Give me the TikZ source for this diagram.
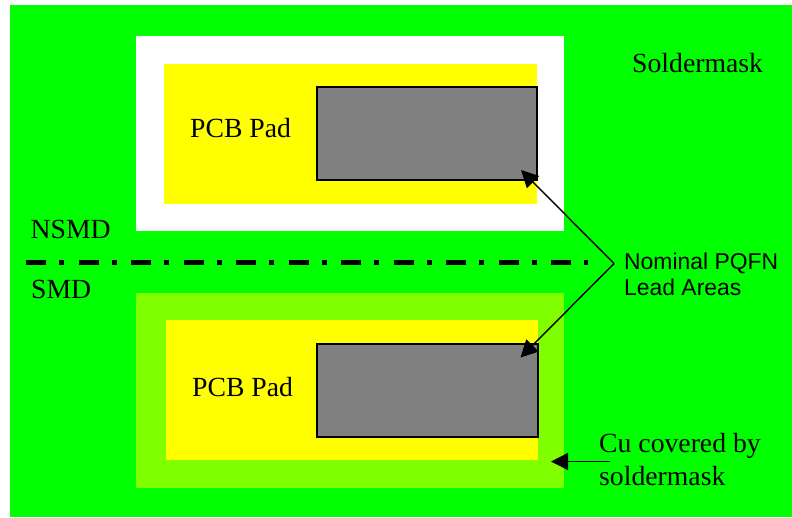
\documentclass[tikz,border=0pt]{standalone}
\usepackage{fontspec}
\setmainfont{Liberation Serif}
\newfontfamily\armfont{Liberation Sans}
\usetikzlibrary{arrows.meta}

\definecolor{maskgreen}{RGB}{0,255,0}
\definecolor{cugreen}{RGB}{128,255,0}
\definecolor{padyellow}{RGB}{255,255,0}
\definecolor{leadgray}{RGB}{128,128,128}

\tikzset{
  area/.style={inner sep=0pt, outer sep=0pt, anchor=north west},
  leadarea/.style={area, fill=leadgray, draw=black, line width=1.6pt},
  serif label/.style={inner sep=0pt, anchor=base west, font=\fontsize{27.7}{32}\selectfont},
  sans label/.style={inner sep=0pt, anchor=base west, font=\armfont\fontsize{22.9}{26}\selectfont},
  pointer/.style={-{Stealth[inset=0pt, length=17pt, width=17pt]}, line width=1.4pt},
}

\begin{document}
\begin{tikzpicture}[x=1pt, y=-1pt, >=Stealth]

  \useasboundingbox (0,0) rectangle (792,517);

  % Soldermask background
  \fill[maskgreen] (10,5) rectangle (792,517);

  % NSMD pad, opening in the mask
  \node[area, fill=white, minimum width=428pt, minimum height=195pt] (opening) at (136,36) {};
  \node[area, fill=padyellow, minimum width=373pt, minimum height=140pt] (padtop) at (164,64) {};
  \node[leadarea, minimum width=220pt, minimum height=93pt] (leadtop) at (317,87) {};
  \node[serif label] (padtoplabel) at (190,137) {PCB Pad};

  % SMD pad, copper under the mask
  \node[area, fill=cugreen, minimum width=428pt, minimum height=195pt] (copper) at (136,293) {};
  \node[area, fill=padyellow, minimum width=372pt, minimum height=140pt] (padbot) at (166,320) {};
  \node[leadarea, minimum width=221pt, minimum height=93pt] (leadbot) at (317,344) {};
  \node[serif label] (padbotlabel) at (192,396) {PCB Pad};

  % Dividing line
  \coordinate (divleft) at (26,262);
  \coordinate (divright) at (588,262);
  \draw[line width=5pt, dash pattern=on 20pt off 13pt on 5pt off 14.5pt] (divleft) -- (divright);

  % Labels
  \node[serif label] (mask) at (632,72) {Soldermask};
  \node[serif label] (nsmd) at (30.5,238) {NSMD};
  \node[serif label] (smd) at (31,298) {SMD};
  \node[sans label] (nominal) at (624,269) {Nominal PQFN};
  \node[sans label] (leadareas) at (624,295) {Lead Areas};
  \node[serif label] (cu) at (599,452) {Cu covered by};
  \node[serif label] (cumask) at (599,485) {soldermask};

  % Pointers
  \coordinate (apex) at (614,263.5);
  \coordinate (tiptop) at (521,170);
  \coordinate (tipbot) at (520.5,357.5);
  \coordinate (cutail) at (610,461.5);
  \coordinate (cutip) at (551,461.5);
  \draw[pointer] (apex) -- (tiptop);
  \draw[pointer] (apex) -- (tipbot);
  \draw[pointer] (cutail) -- (cutip);

\end{tikzpicture}
\end{document}
